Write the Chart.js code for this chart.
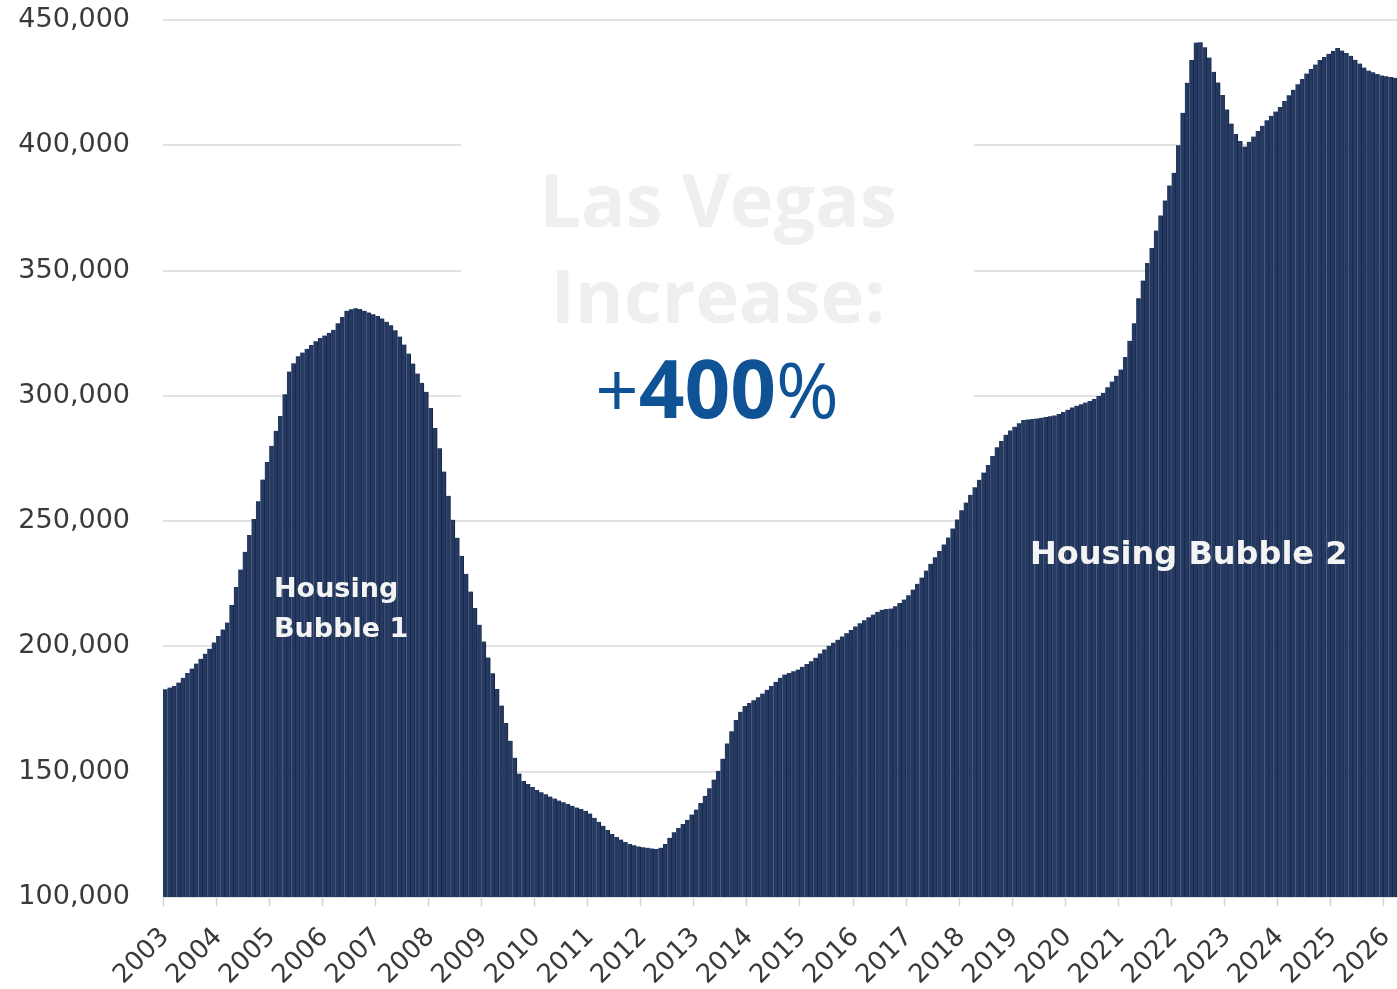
<!DOCTYPE html>
<html>
<head>
<meta charset="utf-8">
<title>Las Vegas median home price</title>
<script src="https://cdn.jsdelivr.net/npm/chart.js@4.4.1/dist/chart.umd.min.js"></script>
<style>
  html, body { margin: 0; padding: 0; background: #fff; overflow: hidden; }
</style>
</head>
<body>
<!-- canvas is a bit wider than the window: the x scale reserves room on the right for its last (empty) label -->
<canvas id="priceChart" width="1433" height="989"></canvas>
<script>
// Year labels on the x axis (one label every 12 monthly bars)
const years = ['2003', '2004', '2005', '2006', '2007', '2008', '2009', '2010', '2011', '2012', '2013', '2014',
  '2015', '2016', '2017', '2018', '2019', '2020', '2021', '2022', '2023', '2024', '2025', '2026'];

// Monthly median price (Jan 2003 - Mar 2026)
const medianPrice = [
  182900, 183600, 184200, 185600, 187500, 189400, 191200, 193200, 195100, 197100, 199100, 201600, // 2003
  204200, 206800, 209500, 216500, 223700, 230700, 237800, 244500, 250900, 257900, 266600, 273600, // 2004
  280100, 286100, 292000, 300600, 309700, 313000, 315800, 317300, 318800, 320300, 321800, 323100, // 2005
  324100, 325200, 326400, 329000, 331500, 334000, 334600, 335000, 334700, 334000, 333300, 332600, // 2006
  331900, 330900, 329600, 328200, 326200, 323700, 320500, 316900, 312900, 308900, 305200, 301600, // 2007
  295200, 287200, 279100, 269800, 260100, 250600, 243400, 236200, 229000, 221900, 215300, 208700, // 2008
  202000, 195600, 189300, 183000, 176400, 169400, 162400, 155600, 149300, 146300, 145100, 143900, // 2009
  142700, 141800, 141000, 140100, 139300, 138500, 137800, 137100, 136400, 135700, 135100, 134400, // 2010
  133300, 131600, 130000, 128400, 126700, 125100, 123900, 122900, 121900, 121200, 120700, 120200, // 2011
  119900, 119700, 119400, 119200, 119700, 121200, 123600, 125800, 127500, 129100, 130800, 132900, // 2012
  134900, 137500, 140400, 143400, 146900, 150400, 155200, 161300, 166100, 170600, 173900, 176200, // 2013
  177400, 178500, 179700, 181200, 182700, 184200, 185900, 187500, 188800, 189400, 190100, 190800, // 2014
  191900, 193000, 194100, 195500, 197200, 198800, 200300, 201500, 202700, 204000, 205300, 206600, // 2015
  208000, 209300, 210400, 211600, 212700, 213800, 214600, 214900, 215100, 216000, 217300, 218700, // 2016
  220400, 222700, 225000, 227500, 230300, 233000, 235600, 238100, 240700, 243500, 247100, 250700, // 2017
  254300, 257400, 260500, 263500, 266500, 269400, 272400, 276000, 279500, 282000, 284500, 286200, // 2018
  287700, 289100, 290400, 290600, 290800, 291000, 291300, 291600, 291900, 292200, 292800, 293600, // 2019
  294500, 295400, 296100, 296700, 297300, 297900, 298700, 299900, 301200, 303400, 305700, 308000, // 2020
  310500, 315500, 322000, 329000, 339000, 346000, 353000, 359000, 366000, 372000, 378000, 384000, // 2021
  389000, 400000, 413000, 425000, 434000, 441000, 441100, 439100, 435000, 429300, 425100, 420100, // 2022
  414300, 408700, 404500, 401700, 399500, 401400, 403500, 405700, 407800, 410000, 411800, 413500, // 2023
  415300, 417700, 420000, 422200, 424400, 426500, 428600, 430400, 432200, 434000, 435200, 436500, // 2024
  437700, 438800, 437800, 436800, 435700, 434100, 432600, 431000, 429800, 429100, 428400, 427900, // 2025
  427600, 427300, 427000                                                                          // 2026
];

const yMin = 100000;
const yMax = 450000;
const yStep = 50000;

// one category per month, e.g. "2003-01"
const months = years.flatMap(y => ['01','02','03','04','05','06','07','08','09','10','11','12'].map(m => y + '-' + m))
  .slice(0, medianPrice.length);

// white panel behind the headline + annotation text
const overlayText = {
  id: 'overlayText',
  beforeDatasetsDraw(chart) {
    const c = chart.ctx;
    c.save();
    c.fillStyle = '#ffffff';
    c.fillRect(461, 28, 513, 440);
    c.restore();
  },
  afterDatasetsDraw(chart) {
    const c = chart.ctx;
    c.save();
    c.textBaseline = 'alphabetic';

    // headline
    c.fillStyle = '#efefef';
    c.textAlign = 'center';
    c.font = '700 74px "Open Sans"';
    c.fillText('Las Vegas', 718, 227);
    c.fillText('Increase:', 718, 323);

    // +400% : light plus / percent, bold number
    const parts = [
      { t: '+', f: '400 76px "Open Sans"' },
      { t: '400', f: '700 80px "Open Sans"' },
      { t: '%', f: '400 76px "Open Sans"' }
    ];
    let total = 0;
    parts.forEach(p => { c.font = p.f; p.w = c.measureText(p.t).width; total += p.w; });
    let x = 717 - total / 2;
    c.textAlign = 'left';
    c.fillStyle = '#0f5296';
    parts.forEach(p => { c.font = p.f; c.fillText(p.t, x, 418); x += p.w; });

    // bubble labels
    c.fillStyle = '#f4f4f4';
    c.font = 'bold 27px "DejaVu Sans"';
    c.fillText('Housing', 274, 597);
    c.fillText('Bubble 1', 274, 637);
    c.font = 'bold 32px "DejaVu Sans"';
    c.fillText('Housing Bubble 2', 1030, 564);
    c.restore();
  }
};

document.addEventListener('DOMContentLoaded', () => {
  const ctx = document.getElementById('priceChart').getContext('2d');

  new Chart(ctx, {
    type: 'bar',
    data: {
      labels: months,
      datasets: [{
        label: 'Median home price',
        data: medianPrice,
        backgroundColor: '#253a63',
        borderColor: '#18243f',
        borderWidth: { top: 0, bottom: 0, left: 0, right: 1 },
        borderSkipped: false,
        barPercentage: 1,
        categoryPercentage: 1
      }]
    },
    options: {
      responsive: false,
      animation: false,
      layout: { padding: { top: 20, right: 0, bottom: 0, left: 0 } },
      plugins: {
        legend: { display: false },
        tooltip: { enabled: false }
      },
      scales: {
        x: {
          offset: true,
          border: { display: false },
          grid: {
            offset: true,
            drawOnChartArea: false,
            drawTicks: true,
            tickLength: 9,
            tickWidth: 1.5,
            // tick mark only at each January
            tickColor: c => (c.index % 12 === 0 ? '#d3d3d3' : 'rgba(0,0,0,0)')
          },
          ticks: {
            autoSkip: false,
            minRotation: 45,
            maxRotation: 45,
            padding: 16,
            color: '#3a3a3a',
            font: { family: 'DejaVu Sans', size: 26 },
            callback: (val, idx) => (idx % 12 === 0 ? years[idx / 12] : '')
          },
          afterFit: scale => { scale.height = 92; }
        },
        y: {
          min: yMin,
          max: yMax,
          border: { display: false },
          // invisible tick marks make the gap between labels and plot
          grid: { color: '#e2e2e2', lineWidth: 2, drawTicks: true, tickLength: 33, tickColor: 'rgba(0,0,0,0)' },
          ticks: {
            stepSize: yStep,
            padding: 0,
            color: '#3a3a3a',
            font: { family: 'DejaVu Sans', size: 27 },
            callback: v => v.toLocaleString('en-US')
          },
          afterFit: scale => { scale.width = 163; }
        }
      }
    },
    plugins: [overlayText]
  });
});
</script>
</body>
</html>
